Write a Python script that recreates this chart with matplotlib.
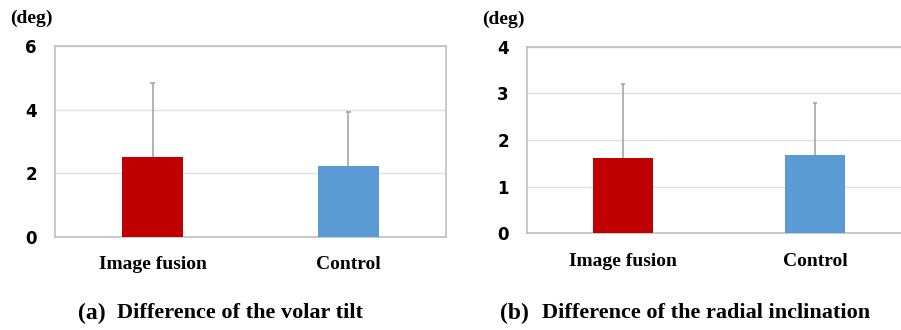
import matplotlib.pyplot as plt

# данные
categories = ["Image fusion", "Control"]
volar_mean = [2.52, 2.23]
volar_sd = [2.33, 1.71]
radial_mean = [1.62, 1.68]
radial_sd = [1.59, 1.11]
bar_colors = ["#c00000", "#5b9bd5"]

fig = plt.figure(figsize=(9.01, 3.30), dpi=100)
ax1 = fig.add_axes([55/901, 93/330, 391/901, 191/330])
ax2 = fig.add_axes([527/901, 96.7/330, 384/901, 186.6/330])

def draw_panel(ax, mean, sd, ymax, step):
    x = list(range(len(categories)))
    tops = [m + s for m, s in zip(mean, sd)]
    ax.bar(x, mean, width=0.31, color=bar_colors, zorder=3)
    # только верхние "усы"
    ax.vlines(x, mean, tops, color="#a6a6a6", linewidth=1.2, zorder=2)
    ax.hlines(tops, [i - 0.012 for i in x], [i + 0.012 for i in x],
              color="#a6a6a6", linewidth=1.2, zorder=2)
    ax.set_xlim(-0.5, 1.5)
    ax.set_ylim(0, ymax)
    ax.set_yticks(range(0, ymax + 1, step))
    ax.grid(axis="y", color="#e0e0e0", linewidth=1, zorder=0)
    for s in ax.spines.values():
        s.set_color("#bfbfbf")
        s.set_linewidth(1.2)
    ax.set_xticks(x)
    ax.set_xticklabels(categories, fontfamily="Liberation Serif", fontweight="bold",
                       fontsize=14)
    ax.tick_params(axis="x", length=0, pad=14)
    ax.tick_params(axis="y", length=0, pad=13, labelsize=12)
    for lab in ax.get_yticklabels():
        lab.set_fontweight("bold")

draw_panel(ax1, volar_mean, volar_sd, 6, 2)
draw_panel(ax2, radial_mean, radial_sd, 4, 1)

serif = dict(fontfamily="Liberation Serif", fontweight="bold", va="center")
fig.text(10/901, 1 - 18/330, "(deg)", fontsize=14, **serif)
fig.text(482/901, 1 - 19/330, "(deg)", fontsize=14, **serif)

fig.text(78/901, 1 - 313/330, "(a)", fontsize=17, **serif)
fig.text(117/901, 1 - 313/330, "Difference of the volar tilt", fontsize=16, **serif)
fig.text(500/901, 1 - 313/330, "(b)", fontsize=17, **serif)
fig.text(542/901, 1 - 313/330, "Difference of the radial inclination", fontsize=16, **serif)

fig.savefig("out.png", dpi=100)
